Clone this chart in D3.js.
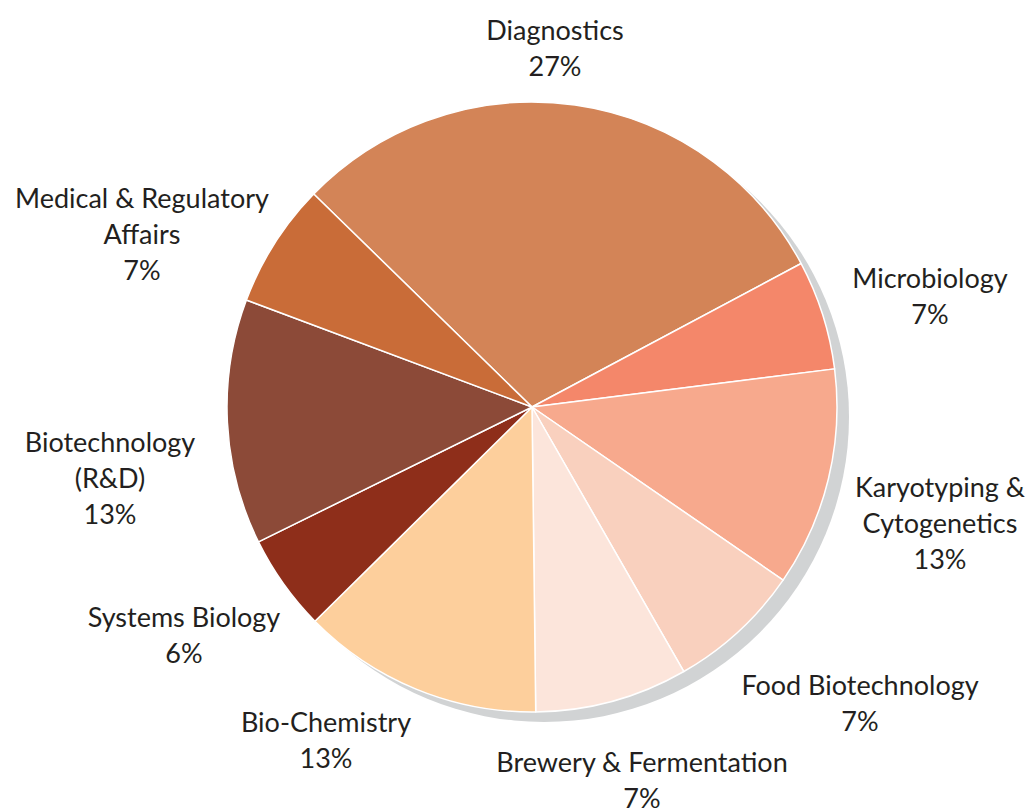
<!DOCTYPE html>
<html>
<head>
<meta charset="utf-8">
<title>Pie</title>
<style>
  body { margin: 0; background: #fff; }
  .lbl { font-family: Lato, "Open Sans", sans-serif; font-size: 27px; fill: #231f20; }
</style>
</head>
<body>
<script src="https://d3js.org/d3.v7.min.js"></script>
<script>

// data
var categories = ["Diagnostics", "Microbiology", "Karyotyping & Cytogenetics", "Food Biotechnology",
  "Brewery & Fermentation", "Bio-Chemistry", "Systems Biology", "Biotechnology (R&D)", "Medical & Regulatory Affairs"];
// slice sizes as drawn
var shares = [29.9, 5.8, 11.6, 7.1, 8.1, 12.8, 5.1, 13.0, 6.6];
// percentages as printed on the labels
var pctLabels = ["27%", "7%", "13%", "7%", "7%", "13%", "6%", "13%", "7%"];
// label line breaks
var labelLines = [
  ["Diagnostics"], ["Microbiology"], ["Karyotyping &", "Cytogenetics"], ["Food Biotechnology"],
  ["Brewery & Fermentation"], ["Bio-Chemistry"], ["Systems Biology"], ["Biotechnology", "(R&D)"],
  ["Medical & Regulatory", "Affairs"]
];
var colors = ["#d38457", "#f4876a", "#f7a98d", "#f9d0be", "#fce5db", "#fdcf9c", "#8e2e1a", "#8c4a38", "#c96c38"];

// layout
var width = 1031, height = 811;
var cx = 532, cy = 407, radius = 305;
var lineH = 36;
// label block centres (x, first line y)
var labelAt = [[555, 43], [930, 291], [940, 500], [860, 698], [642, 775], [326, 735], [184, 630], [110, 455], [142, 211]];

var svg = d3.select("body").append("svg")
  .attr("width", width)
  .attr("height", height);

// shadow
svg.append("circle")
  .attr("cx", cx + 12)
  .attr("cy", cy + 10)
  .attr("r", radius)
  .style("fill", "#d1d3d4");

var pie = d3.pie()
  .sort(null)
  .startAngle(-45.7 * Math.PI / 180)
  .endAngle(-45.7 * Math.PI / 180 + 2 * Math.PI);

var arc = d3.arc().innerRadius(0).outerRadius(radius);

var g = svg.append("g").attr("transform", "translate(" + cx + "," + cy + ")");

g.selectAll("path")
  .data(pie(shares))
  .enter().append("path")
  .attr("d", arc)
  .style("fill", function(d, i) { return colors[i]; })
  .style("stroke", "#fff")
  .style("stroke-width", 1.5)
  .style("stroke-linejoin", "round");

// labels
var labels = svg.selectAll(".lbl")
  .data(categories)
  .enter().append("text")
  .attr("class", "lbl")
  .attr("text-anchor", "middle")
  .attr("dominant-baseline", "middle");

labels.each(function(d, i) {
  var t = d3.select(this);
  var lines = labelLines[i].concat([pctLabels[i]]);
  lines.forEach(function(s, k) {
    t.append("tspan")
      .attr("x", labelAt[i][0])
      .attr("y", labelAt[i][1] + k * lineH - 10)
      .text(s);
  });
});

</script>
</body>
</html>
